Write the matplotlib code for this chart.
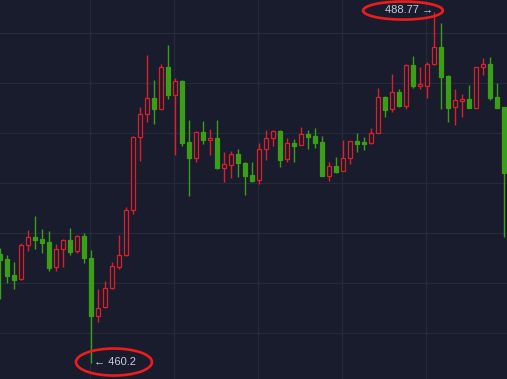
import matplotlib
matplotlib.use("Agg")
import matplotlib.pyplot as plt
from matplotlib.patches import Ellipse

# candle data (one bar per period)
opens = [469.07, 468.67, 467.36, 467.04, 469.81, 470.46, 470.29, 470.05, 468.01, 469.48,
         470.21, 469.32, 470.54, 468.75, 464.03, 464.76, 466.31, 468.01, 468.99, 472.65,
         478.60, 480.47, 481.77, 480.88, 484.29, 482.02, 483.15, 478.19, 476.89, 479.00,
         478.35, 478.51, 476.07, 476.32, 477.21, 476.48, 475.50, 475.10, 477.62, 478.51,
         479.08, 476.81, 478.11, 477.94, 478.84, 478.68, 478.19, 475.42, 476.24, 475.83,
         476.89, 478.27, 478.19, 478.11, 478.92, 481.85, 480.88, 482.26, 481.12, 484.46,
         482.75, 482.75, 484.54, 485.92, 483.56, 481.04, 481.53, 481.69, 480.96, 484.29,
         484.54, 481.85, 481.04]
highs = [469.56, 468.99, 468.42, 469.97, 471.03, 472.17, 471.11, 470.94, 469.89, 470.29,
         471.19, 470.62, 470.78, 469.40, 466.22, 466.87, 468.42, 470.62, 472.90, 478.68,
         481.04, 485.27, 483.24, 484.54, 486.09, 483.40, 483.24, 479.98, 479.08, 479.90,
         479.25, 479.98, 477.37, 477.46, 477.62, 476.56, 476.56, 478.11, 479.17, 479.17,
         479.17, 478.51, 478.43, 479.41, 479.17, 479.33, 478.68, 476.56, 476.97, 478.35,
         478.27, 478.92, 478.60, 479.33, 482.58, 481.93, 483.72, 482.50, 484.54, 485.19,
         484.29, 484.70, 488.77, 487.88, 483.64, 482.50, 482.10, 482.83, 484.29, 485.03,
         485.11, 482.99, 481.04]
lows = [465.41, 466.71, 466.22, 466.96, 469.32, 469.48, 469.15, 467.69, 467.69, 468.01,
        468.99, 469.15, 468.34, 460.20, 463.54, 464.68, 466.22, 467.85, 468.91, 472.33,
        476.64, 479.82, 479.65, 480.88, 481.69, 477.13, 477.86, 473.79, 476.56, 478.03,
        477.13, 475.99, 474.93, 475.26, 475.34, 473.88, 474.93, 474.77, 476.72, 477.86,
        476.15, 476.56, 476.56, 477.94, 477.62, 477.70, 475.42, 475.01, 475.67, 475.83,
        476.40, 477.37, 477.54, 478.03, 478.92, 480.22, 480.63, 481.04, 480.88, 482.58,
        482.50, 481.77, 484.46, 480.88, 479.82, 479.57, 480.22, 480.96, 480.96, 483.64,
        481.61, 480.96, 470.46]
closes = [468.58, 467.28, 466.96, 469.81, 470.46, 470.21, 469.97, 467.93, 469.48, 470.21,
          469.24, 470.54, 468.75, 464.03, 464.68, 466.31, 468.10, 468.99, 472.65, 478.60,
          480.47, 481.77, 480.88, 484.29, 482.02, 483.15, 478.11, 476.89, 479.00, 478.35,
          478.51, 476.07, 476.40, 477.21, 476.48, 475.42, 475.01, 477.62, 478.51, 479.08,
          476.72, 478.11, 477.86, 478.84, 478.60, 478.11, 475.42, 476.24, 475.75, 476.89,
          478.27, 478.03, 478.03, 478.92, 481.85, 480.79, 482.26, 481.12, 484.46, 482.75,
          482.91, 484.54, 485.92, 483.48, 480.96, 481.61, 481.69, 480.96, 484.29, 484.54,
          481.77, 480.96, 475.67]
grid_levels = [462.64, 466.71, 470.78, 474.85, 478.92, 482.99, 487.06]
grid_bars = [12.87, 24.87, 36.87, 48.87, 60.87]
high_label = "488.77 \u2192"
low_label = "\u2190 460.2"

bg = "#191c2d"
up_col = "#dc1f2b"
down_col = "#3a9e17"
ring_col = "#ec1d1d"

fig = plt.figure(figsize=(5.07, 3.79), dpi=100)
fig.patch.set_facecolor(bg)
ax = fig.add_axes([0, 0, 1, 1])
ax.set_facecolor(bg)

x = list(range(len(opens)))
for lvl in grid_levels:
    ax.axhline(lvl, color="#252939", lw=0.9, zorder=0)
for b in grid_bars:
    ax.axvline(b, color="#252939", lw=0.9, zorder=0)

for i in x:
    o, h, l, c = opens[i], highs[i], lows[i], closes[i]
    up = c >= o
    col = up_col if up else down_col
    ax.vlines(i, l, h, color=col, lw=1.0, zorder=1)
    bottom = min(o, c)
    height = max(abs(c - o), 0.06)
    ax.bar(i, height, bottom=bottom, width=0.58,
           facecolor=bg if up else col, edgecolor=col, linewidth=0.9, zorder=2)

# max / min markers
hi = highs.index(max(highs))
lo = lows.index(min(lows))
ax.text(hi - 0.1, highs[hi] + 0.15, high_label, ha="right", va="center",
        color="#c9ccd8", fontsize=8, family=["Liberation Sans", "DejaVu Sans"], zorder=4)
ax.text(lo + 0.45, lows[lo] + 0.08, low_label, ha="left", va="center",
        color="#c9ccd8", fontsize=8, family=["Liberation Sans", "DejaVu Sans"], zorder=4)
ax.add_patch(Ellipse((hi - 4.47, highs[hi] + 0.12), 11.4, 1.47, fill=False,
                     edgecolor=ring_col, lw=1.9, zorder=5))
ax.add_patch(Ellipse((lo + 3.24, lows[lo] + 0.08), 10.86, 2.2, fill=False,
                     edgecolor=ring_col, lw=1.9, zorder=5))

ax.set_xlim(-0.043, 72.39)
ax.set_ylim(458.90, 489.748)
ax.set_xticks([])
ax.set_yticks([])
for s in ax.spines.values():
    s.set_visible(False)

fig.savefig("out.png", dpi=100, facecolor=bg)
